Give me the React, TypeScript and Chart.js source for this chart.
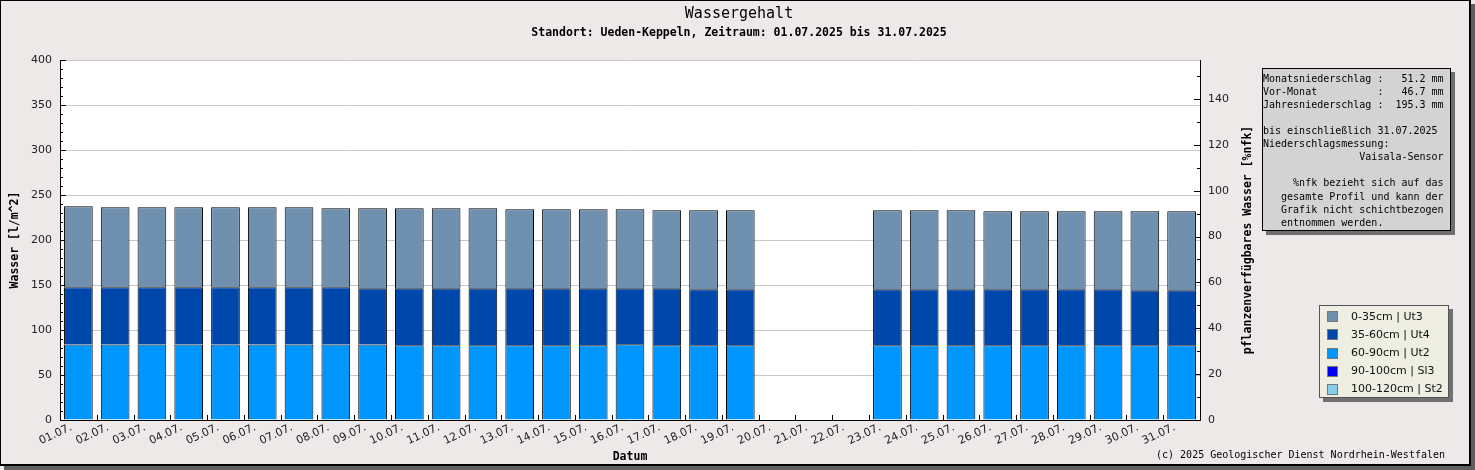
import React, { useEffect, useRef } from 'react';
import { Chart, registerables } from 'chart.js';

Chart.register(...registerables);

const days = [
  '01.07.', '02.07.', '03.07.', '04.07.', '05.07.', '06.07.', '07.07.', '08.07.',
  '09.07.', '10.07.', '11.07.', '12.07.', '13.07.', '14.07.', '15.07.', '16.07.',
  '17.07.', '18.07.', '19.07.', '20.07.', '21.07.', '22.07.', '23.07.', '24.07.',
  '25.07.', '26.07.', '27.07.', '28.07.', '29.07.', '30.07.', '31.07.',
];

// layer 0-35cm (top of stack)
const w0_35 = [
  90.0, 88.9, 88.9, 88.9, 88.9, 88.9, 88.9, 87.8, 88.9, 88.9, 88.9, 88.9, 87.8, 87.8,
  87.8, 87.8, 86.7, 87.8, 87.8, null, null, null, 87.8, 87.8, 87.8, 86.7, 86.7, 86.7,
  86.7, 87.8, 87.8,
];
// layer 35-60cm
const w35_60 = [
  63.6, 63.6, 63.6, 63.6, 63.6, 63.6, 63.6, 63.6, 62.5, 63.3, 63.3, 63.3, 63.3, 63.3,
  63.3, 62.2, 63.3, 62.2, 62.2, null, null, null, 62.2, 62.2, 62.2, 62.2, 62.2, 62.2,
  62.2, 61.1, 61.1,
];
// layer 60-90cm (bottom of stack)
const w60_90 = [
  83.8, 83.8, 83.8, 83.8, 83.8, 83.8, 83.8, 83.8, 83.8, 83.0, 83.0, 83.0, 83.0, 83.0,
  83.0, 84.1, 83.0, 83.0, 83.0, null, null, null, 83.0, 83.0, 83.0, 83.0, 83.0, 83.0,
  83.0, 83.0, 83.0,
];
const w90_100 = [
  0, 0, 0, 0, 0, 0, 0, 0, 0, 0, 0, 0, 0, 0, 0, 0, 0, 0, 0, null, null, null,
  0, 0, 0, 0, 0, 0, 0, 0, 0,
];
const w100_120 = [
  0, 0, 0, 0, 0, 0, 0, 0, 0, 0, 0, 0, 0, 0, 0, 0, 0, 0, 0, null, null, null,
  0, 0, 0, 0, 0, 0, 0, 0, 0,
];

const layerLabels = ['0-35cm | Ut3', '35-60cm | Ut4', '60-90cm | Ut2', '90-100cm | Sl3', '100-120cm | St2'];
const layerColors = ['#7090b0', '#0047ab', '#0096ff', '#0000ee', '#87ceeb'];

const leftMax = 400;
const rightMax = 157;

const titleText = 'Wassergehalt';
const subtitleText = 'Standort: Ueden-Keppeln, Zeitraum: 01.07.2025 bis 31.07.2025';
const leftTitle = 'Wasser [l/m^2]';
const rightTitle = 'pflanzenverfügbares Wasser [%nfk]';
const xTitle = 'Datum';
const copyright = '(c) 2025 Geologischer Dienst Nordrhein-Westfalen';
const infoLines = [
  'Monatsniederschlag :   51.2 mm',
  'Vor-Monat          :   46.7 mm',
  'Jahresniederschlag :  195.3 mm',
  '',
  'bis einschließlich 31.07.2025',
  'Niederschlagsmessung:',
  '                Vaisala-Sensor',
  '',
  '     %nfk bezieht sich auf das',
  '   gesamte Profil und kann der',
  '   Grafik nicht schichtbezogen',
  '   entnommen werden.',
];

const MONO = '"DejaVu Sans Mono", monospace';
const SANS = '"DejaVu Sans", sans-serif';

const decorPlugin = {
  id: 'decor',
  beforeDraw(chart: any) {
    const { ctx, chartArea: a, width, height } = chart;
    ctx.save();
    ctx.fillStyle = '#ece9e8';
    ctx.fillRect(0, 0, width, height);
    ctx.fillStyle = '#5f5f5f';
    ctx.fillRect(1471, 4, 4, height - 4);
    ctx.fillRect(4, 466, width - 4, 4);
    ctx.fillStyle = '#ffffff';
    ctx.fillRect(a.left, a.top, a.right - a.left, a.bottom - a.top);
    ctx.restore();
  },
  beforeDatasetsDraw(chart: any) {
    const { ctx, chartArea: a, scales } = chart;
    ctx.save();
    ctx.strokeStyle = '#000';
    ctx.lineWidth = 1;
    ctx.beginPath();
    const yl = scales.y;
    yl.ticks.forEach((t: any) => {
      if (t.value % 10 !== 0) return;
      const py = Math.round(yl.getPixelForValue(t.value)) + 0.5;
      const len = t.value % 50 === 0 ? 6 : 3;
      ctx.moveTo(a.left, py);
      ctx.lineTo(a.left + len, py);
    });
    const yr = scales.y1;
    yr.ticks.forEach((t: any) => {
      if (t.value % 10 !== 0) return;
      const py = Math.round(yr.getPixelForValue(t.value)) + 0.5;
      const len = t.value % 20 === 0 ? 6 : 3;
      ctx.moveTo(a.right, py);
      ctx.lineTo(a.right - len, py);
    });
    const xs = scales.x;
    for (let i = 1; i < days.length; i++) {
      const px = Math.round((xs.getPixelForTick(i - 1) + xs.getPixelForTick(i)) / 2) + 0.5;
      ctx.moveTo(px, a.bottom);
      ctx.lineTo(px, a.bottom - 5);
    }
    ctx.stroke();
    ctx.restore();
  },
  afterDraw(chart: any) {
    const { ctx, chartArea: a } = chart;
    ctx.save();
    ctx.fillStyle = '#000';
    ctx.textBaseline = 'middle';
    ctx.textAlign = 'center';
    ctx.font = `15px ${MONO}`;
    ctx.fillText(titleText, 739, 14);
    ctx.font = `bold 11.5px ${MONO}`;
    ctx.fillText(subtitleText, 739, 33);
    ctx.fillText(xTitle, (a.left + a.right) / 2, 457);
    ctx.save();
    ctx.translate(15.5, (a.top + a.bottom) / 2);
    ctx.rotate(-Math.PI / 2);
    ctx.fillText(leftTitle, 0, 0);
    ctx.restore();
    ctx.save();
    ctx.translate(1248, (a.top + a.bottom) / 2);
    ctx.rotate(-Math.PI / 2);
    ctx.fillText(rightTitle, 0, 0);
    ctx.restore();
    ctx.textAlign = 'right';
    ctx.font = `10px ${MONO}`;
    ctx.fillText(copyright, 1445, 455);

    // info box
    ctx.fillStyle = '#6e6e6e';
    ctx.fillRect(1266, 72, 189, 163);
    ctx.fillStyle = '#d3d3d3';
    ctx.fillRect(1262, 68, 189, 163);
    ctx.strokeStyle = '#000';
    ctx.lineWidth = 1;
    ctx.strokeRect(1262.5, 68.5, 188, 162);
    ctx.fillStyle = '#000';
    ctx.textAlign = 'left';
    ctx.font = `10px ${MONO}`;
    infoLines.forEach((line, i) => {
      if (line) ctx.fillText(line, 1263, 79.5 + i * 13.05);
    });

    // legend
    ctx.fillStyle = '#707070';
    ctx.fillRect(1323, 309, 130, 93);
    ctx.fillStyle = '#eeeee3';
    ctx.fillRect(1319, 305, 130, 93);
    ctx.strokeStyle = '#555';
    ctx.strokeRect(1319.5, 305.5, 129, 92);
    const ds = chart.data.datasets.slice().reverse();
    ctx.font = `11px ${SANS}`;
    ds.forEach((d: any, i: number) => {
      const cy = 316.7 + i * 18.15;
      ctx.fillStyle = d.backgroundColor;
      ctx.fillRect(1327, Math.round(cy - 5.5), 11, 11);
      ctx.strokeStyle = '#777';
      ctx.strokeRect(1327.5, Math.round(cy - 5.5) + 0.5, 10, 10);
      ctx.fillStyle = '#111';
      ctx.fillText(d.label, 1351, cy);
    });

    // frame
    ctx.fillStyle = '#000';
    ctx.fillRect(0, 0, 1471, 1);
    ctx.fillRect(0, 0, 1, 466);
    ctx.fillRect(1469, 0, 2, 466);
    ctx.fillRect(0, 464, 1471, 2);
    ctx.restore();
  },
};

export default function App() {
  const ref = useRef<HTMLCanvasElement>(null);
  useEffect(() => {
    document.body.style.margin = '0';
    document.body.style.overflow = 'hidden';
    const canvas = ref.current;
    if (!canvas) return;
    const mk = (label: string, data: (number | null)[], color: string, bw: number) => ({
      label,
      data,
      backgroundColor: color,
      borderColor: '#000',
      borderWidth: bw,
      barPercentage: 0.78,
      categoryPercentage: 1.0,
      yAxisID: 'y',
    });
    const chart = new Chart(canvas, {
      type: 'bar',
      data: {
        labels: days,
        datasets: [
          mk(layerLabels[4], w100_120, layerColors[4], 0),
          mk(layerLabels[3], w90_100, layerColors[3], 0),
          mk(layerLabels[2], w60_90, layerColors[2], 1),
          mk(layerLabels[1], w35_60, layerColors[1], 1),
          mk(layerLabels[0], w0_35, layerColors[0], 1),
        ],
      },
      options: {
        responsive: false,
        animation: false,
        devicePixelRatio: 1,
        layout: { padding: { top: 60, left: 0, right: 0, bottom: 0 } },
        plugins: {
          legend: { display: false },
          tooltip: { enabled: false },
          title: { display: false },
        },
        scales: {
          x: {
            stacked: true,
            grid: { display: true, color: 'rgba(0,0,0,0)', drawTicks: false },
            border: { display: true, color: '#000', width: 1 },
            ticks: {
              autoSkip: false,
              minRotation: 25,
              maxRotation: 25,
              padding: 1,
              labelOffset: -7,
              color: '#222',
              font: { family: SANS, size: 11 },
            },
            afterFit(scale: any) {
              scale.height = 50;
            },
          },
          y: {
            stacked: true,
            position: 'left',
            min: 0,
            max: leftMax,
            ticks: {
              stepSize: 10,
              autoSkip: false,
              padding: 8,
              color: '#222',
              font: { family: SANS, size: 11 },
              callback: (v: any) => (Number(v) % 50 === 0 ? String(v) : ''),
            },
            grid: {
              drawTicks: false,
              color: (c: any) => (c.tick && c.tick.value % 50 === 0 && c.tick.value !== 0 ? '#c8c8c8' : 'rgba(0,0,0,0)'),
            },
            border: { display: true, color: '#000', width: 1 },
            afterFit(scale: any) {
              scale.width = 60;
            },
          },
          y1: {
            position: 'right',
            min: 0,
            max: rightMax,
            ticks: {
              stepSize: 10,
              autoSkip: false,
              padding: 8,
              color: '#222',
              font: { family: SANS, size: 11 },
              callback: (v: any) => (Number(v) % 20 === 0 ? String(v) : ''),
            },
            grid: { display: false, drawTicks: false },
            border: { display: true, color: '#000', width: 1 },
            afterFit(scale: any) {
              scale.width = 275;
            },
          },
        },
      } as any,
      plugins: [decorPlugin],
    });
    return () => chart.destroy();
  }, []);
  return <canvas ref={ref} width={1475} height={470} style={{ display: 'block' }} />;
}
